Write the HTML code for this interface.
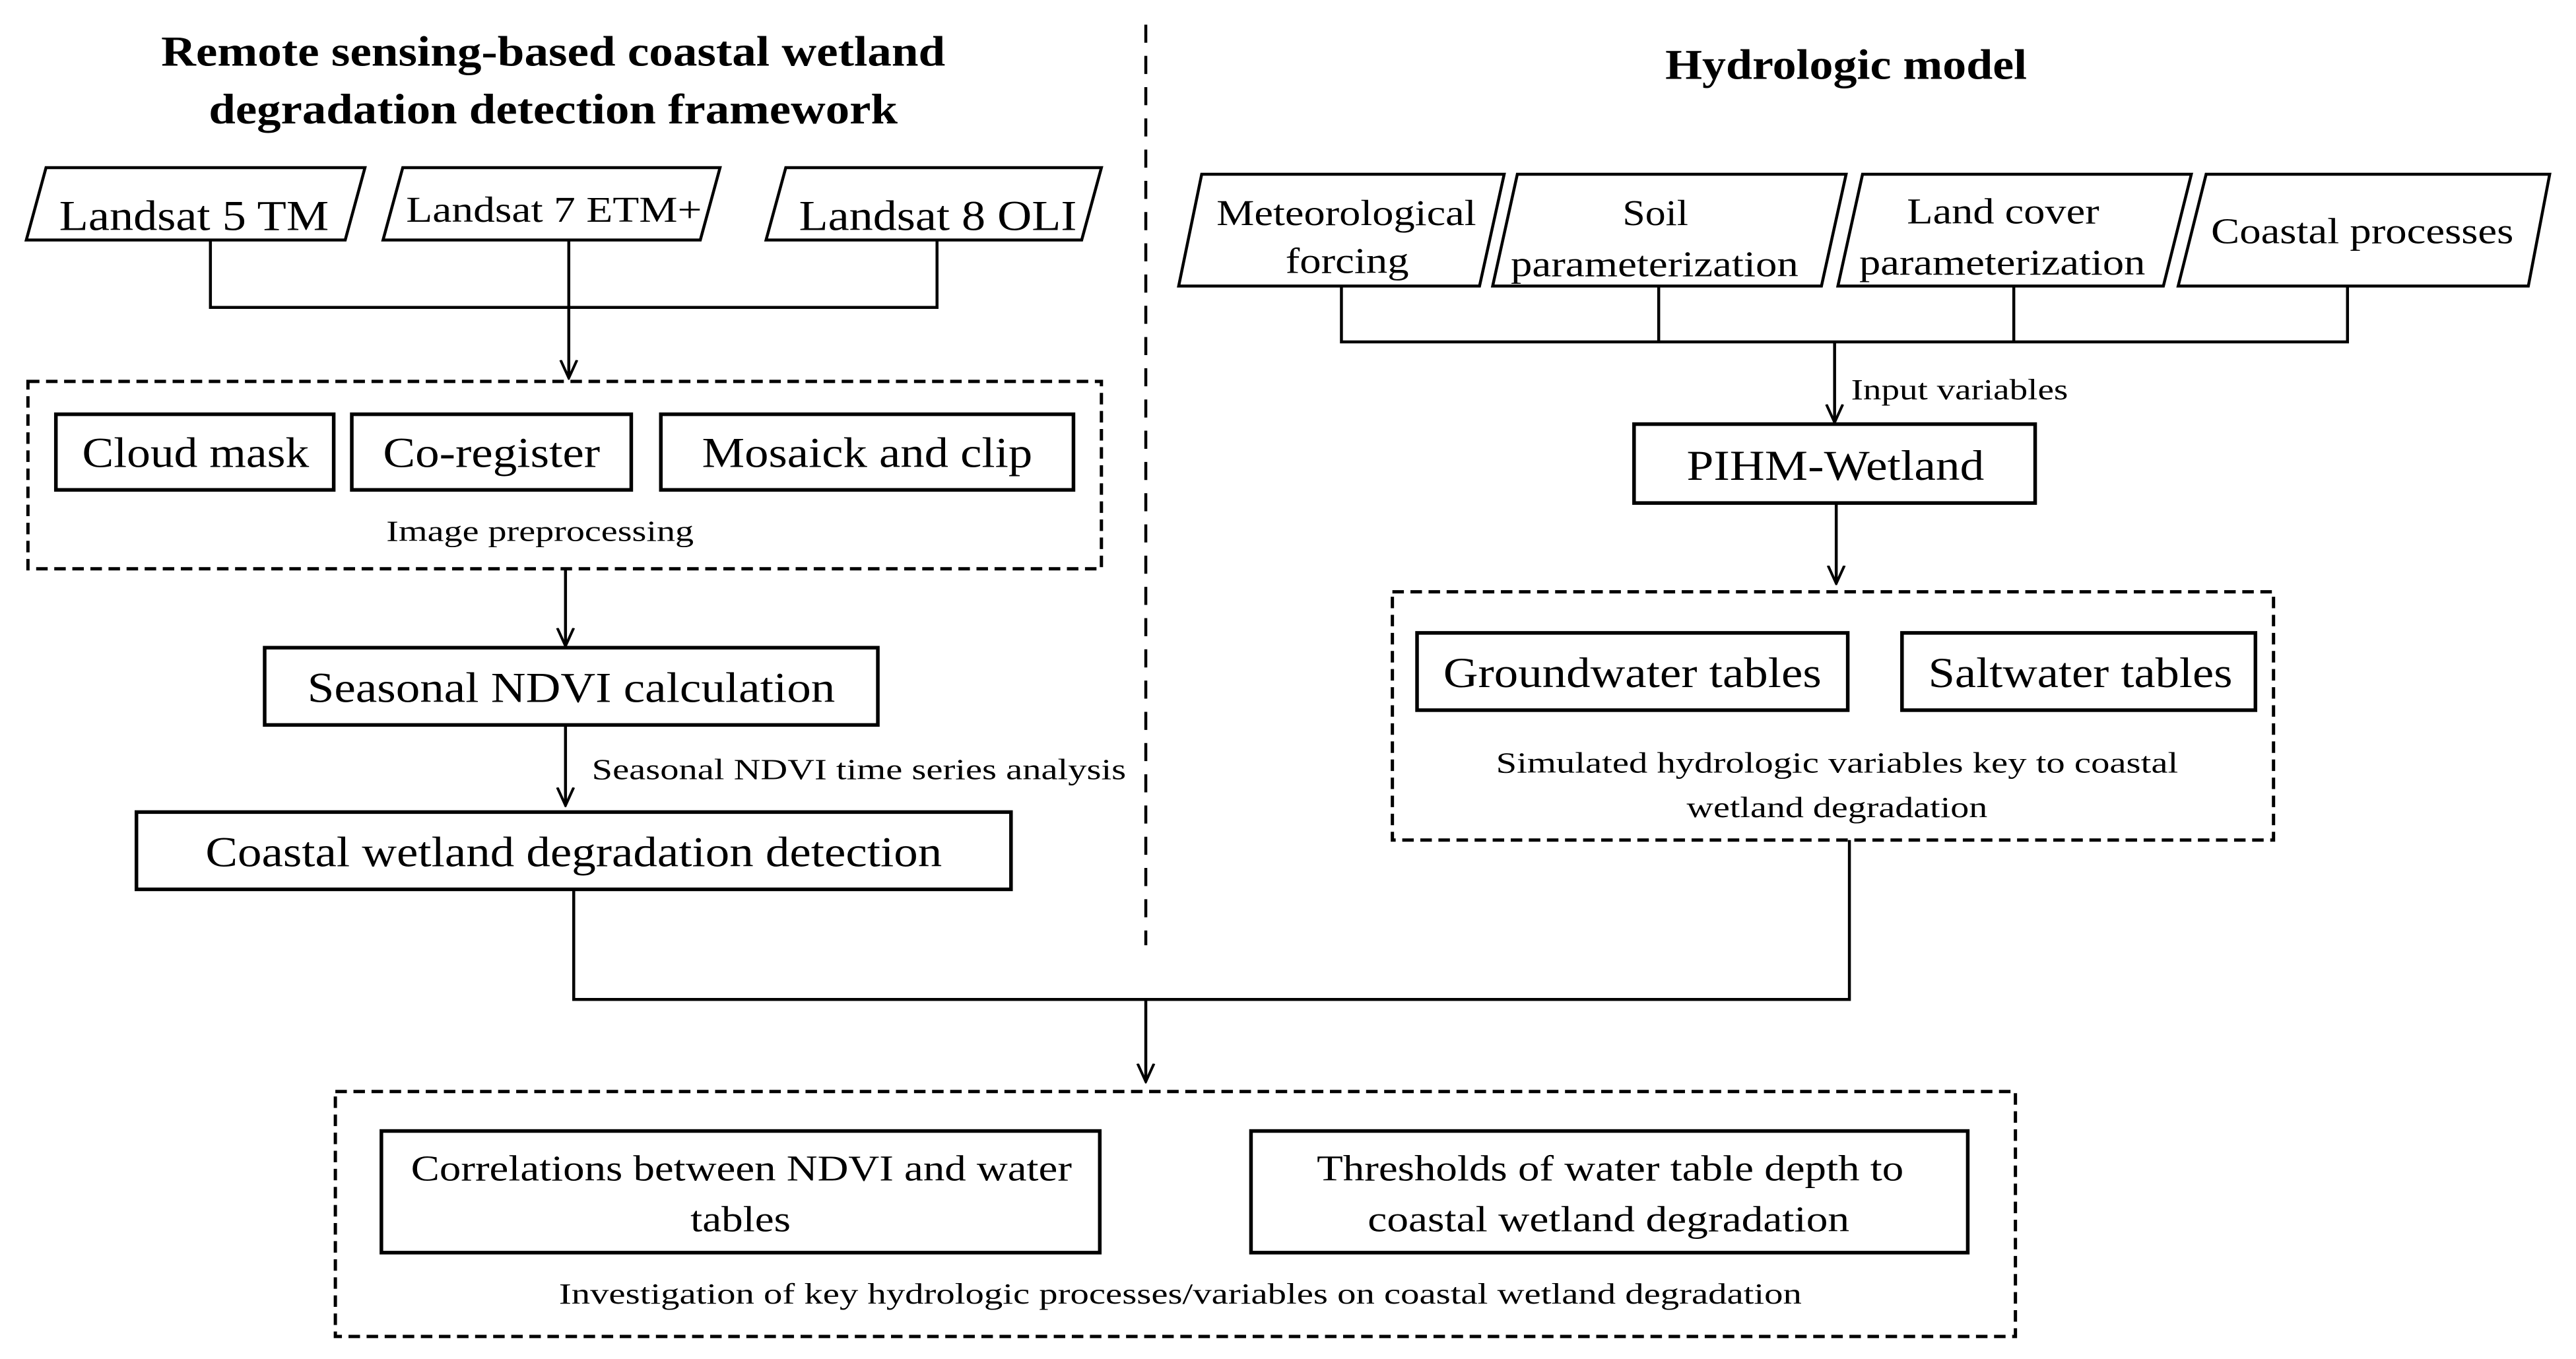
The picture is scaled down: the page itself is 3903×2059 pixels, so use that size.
<!DOCTYPE html>
<html><head><meta charset="utf-8"><style>html,body{margin:0;padding:0;background:#fff}svg{display:block}</style></head>
<body>
<svg width="3903" height="2059" viewBox="0 0 1567 826.7" preserveAspectRatio="none" xmlns="http://www.w3.org/2000/svg" font-family="'Liberation Serif', serif" fill="#000">
<defs><marker id="a" markerWidth="12" markerHeight="12" refX="11" refY="6" orient="auto" markerUnits="userSpaceOnUse"><path d="M0,1 L11,6 L0,11" fill="none" stroke="#000" stroke-width="1.6"/></marker></defs>
<g stroke="#000" stroke-width="1.8" fill="none">
<line x1="697" y1="15" x2="697" y2="575" stroke-dasharray="11,8"/>
<polygon points="28,102 222,102 210,146 16,146"/>
<polygon points="245,102 438,102 426,146 233,146"/>
<polygon points="478,102 670,102 658,146 466,146"/>
<polyline points="128,146 128,187 570,187 570,146"/>
<line x1="346" y1="146" x2="346" y2="230" marker-end="url(#a)"/>
<rect x="17" y="232" width="653" height="114" stroke-dasharray="7,4" stroke-width="2"/>
<rect x="34" y="252" width="169" height="46" stroke-width="2.2"/>
<rect x="214" y="252" width="170" height="46" stroke-width="2.2"/>
<rect x="402" y="252" width="251" height="46" stroke-width="2.2"/>
<line x1="344" y1="346" x2="344" y2="393" marker-end="url(#a)"/>
<rect x="161" y="394" width="373" height="47" stroke-width="2.2"/>
<line x1="344" y1="441" x2="344" y2="490" marker-end="url(#a)"/>
<rect x="83" y="494" width="532" height="47" stroke-width="2.2"/>
<polyline points="349,541 349,608 1125,608 1125,511"/>
<line x1="697" y1="608" x2="697" y2="658" marker-end="url(#a)"/>
<polygon points="731,106 915,106 900,174 717,174"/>
<polygon points="923,106 1123,106 1108,174 908,174"/>
<polygon points="1133,106 1333,106 1316,174 1118,174"/>
<polygon points="1342,106 1551,106 1538,174 1325,174"/>
<polyline points="816,174 816,208 1428,208 1428,174"/>
<line x1="1009" y1="174" x2="1009" y2="208"/>
<line x1="1225" y1="174" x2="1225" y2="208"/>
<line x1="1116" y1="208" x2="1116" y2="257" marker-end="url(#a)"/>
<rect x="994" y="258" width="244" height="48" stroke-width="2.2"/>
<line x1="1117" y1="306" x2="1117" y2="355" marker-end="url(#a)"/>
<rect x="847" y="360" width="536" height="151" stroke-dasharray="7,4" stroke-width="2"/>
<rect x="862" y="385" width="262" height="47" stroke-width="2.2"/>
<rect x="1157" y="385" width="215" height="47" stroke-width="2.2"/>
<rect x="204" y="664" width="1022" height="149" stroke-dasharray="7,4" stroke-width="2"/>
<rect x="232" y="688" width="437" height="74" stroke-width="2.2"/>
<rect x="761" y="688" width="436" height="74" stroke-width="2.2"/>
</g>
<g font-weight="bold" font-size="26">
<text x="98" y="40" textLength="477" lengthAdjust="spacingAndGlyphs">Remote sensing-based coastal wetland</text>
<text x="127" y="75" textLength="419" lengthAdjust="spacingAndGlyphs">degradation detection framework</text>
<text x="1013" y="48" textLength="220" lengthAdjust="spacingAndGlyphs">Hydrologic model</text>
</g>
<g font-size="26">
<text x="36" y="140" textLength="164" lengthAdjust="spacingAndGlyphs">Landsat 5 TM</text>
<text x="247" y="135" font-size="22" textLength="180" lengthAdjust="spacingAndGlyphs">Landsat 7 ETM+</text>
<text x="486" y="140" textLength="169" lengthAdjust="spacingAndGlyphs">Landsat 8 OLI</text>
<text x="50" y="284" textLength="138" lengthAdjust="spacingAndGlyphs">Cloud mask</text>
<text x="233" y="284" textLength="132" lengthAdjust="spacingAndGlyphs">Co-register</text>
<text x="427" y="284" textLength="201" lengthAdjust="spacingAndGlyphs">Mosaick and clip</text>
<text x="187" y="427" textLength="321" lengthAdjust="spacingAndGlyphs">Seasonal NDVI calculation</text>
<text x="125" y="527" textLength="448" lengthAdjust="spacingAndGlyphs">Coastal wetland degradation detection</text>
<text x="1026" y="292" textLength="181" lengthAdjust="spacingAndGlyphs">PIHM-Wetland</text>
<text x="878" y="418" textLength="230" lengthAdjust="spacingAndGlyphs">Groundwater tables</text>
<text x="1173" y="418" textLength="185" lengthAdjust="spacingAndGlyphs">Saltwater tables</text>
</g>
<g font-size="22">
<text x="740" y="137" textLength="158" lengthAdjust="spacingAndGlyphs">Meteorological</text>
<text x="782" y="166" textLength="75" lengthAdjust="spacingAndGlyphs">forcing</text>
<text x="987" y="137" textLength="40" lengthAdjust="spacingAndGlyphs">Soil</text>
<text x="919" y="168" textLength="175" lengthAdjust="spacingAndGlyphs">parameterization</text>
<text x="1160" y="136" textLength="117" lengthAdjust="spacingAndGlyphs">Land cover</text>
<text x="1131" y="167" textLength="174" lengthAdjust="spacingAndGlyphs">parameterization</text>
<text x="1345" y="148" textLength="184" lengthAdjust="spacingAndGlyphs">Coastal processes</text>
<text x="250" y="718" textLength="402" lengthAdjust="spacingAndGlyphs">Correlations between NDVI and water</text>
<text x="420" y="749" textLength="61" lengthAdjust="spacingAndGlyphs">tables</text>
<text x="801" y="718" textLength="357" lengthAdjust="spacingAndGlyphs">Thresholds of water table depth to</text>
<text x="832" y="749" textLength="293" lengthAdjust="spacingAndGlyphs">coastal wetland degradation</text>
</g>
<g font-size="18">
<text x="235" y="329" textLength="187" lengthAdjust="spacingAndGlyphs">Image preprocessing</text>
<text x="360" y="474" textLength="325" lengthAdjust="spacingAndGlyphs">Seasonal NDVI time series analysis</text>
<text x="1126" y="243" textLength="132" lengthAdjust="spacingAndGlyphs">Input variables</text>
<text x="910" y="470" textLength="415" lengthAdjust="spacingAndGlyphs">Simulated hydrologic variables key to coastal</text>
<text x="1026" y="497" textLength="183" lengthAdjust="spacingAndGlyphs">wetland degradation</text>
<text x="340" y="793" textLength="756" lengthAdjust="spacingAndGlyphs">Investigation of key hydrologic processes/variables on coastal wetland degradation</text>
</g>
</svg>
</body></html>
